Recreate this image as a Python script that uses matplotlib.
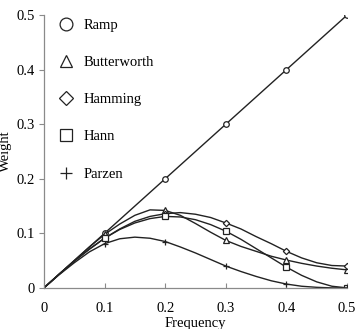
import numpy as np
import matplotlib
matplotlib.use("Agg")
import matplotlib.pyplot as plt

plt.rcParams['font.family'] = ['Liberation Serif', 'DejaVu Serif']

# frequency grid the curves were read on
freq = [0, 0.025, 0.05, 0.075, 0.1, 0.125, 0.15, 0.175, 0.2, 0.225, 0.25,
        0.275, 0.3, 0.325, 0.35, 0.375, 0.4, 0.425, 0.45, 0.475, 0.5]

ramp = [0, 0.025, 0.05, 0.075, 0.1, 0.125, 0.15, 0.175, 0.2, 0.225, 0.25,
        0.275, 0.3, 0.325, 0.35, 0.375, 0.4, 0.425, 0.45, 0.475, 0.5]
butterworth = [0, 0.025, 0.05, 0.075, 0.098, 0.117, 0.133, 0.143, 0.142, 0.133, 0.118,
               0.102, 0.087, 0.076, 0.067, 0.058, 0.051, 0.045, 0.040, 0.036, 0.033]
hamming = [0, 0.025, 0.049, 0.071, 0.091, 0.108, 0.122, 0.131, 0.136, 0.138, 0.135,
           0.129, 0.119, 0.108, 0.094, 0.081, 0.067, 0.055, 0.046, 0.041, 0.040]
hann = [0, 0.025, 0.049, 0.071, 0.091, 0.107, 0.119, 0.127, 0.131, 0.130, 0.125,
        0.116, 0.104, 0.089, 0.072, 0.055, 0.038, 0.023, 0.011, 0.003, 0]
parzen = [0, 0.024, 0.046, 0.066, 0.081, 0.090, 0.093, 0.091, 0.085, 0.075, 0.064,
          0.052, 0.040, 0.030, 0.021, 0.013, 0.007, 0.003, 0.001, 0, 0]

series = [
    ('Ramp', ramp, 'o'),
    ('Butterworth', butterworth, '^'),
    ('Hamming', hamming, 'D'),
    ('Hann', hann, 's'),
    ('Parzen', parzen, '+'),
]

fig = plt.figure(figsize=(3.6, 3.29), dpi=100)
ax = fig.add_axes([0.122, 0.125, 0.842, 0.829])

marks = list(range(4, len(freq), 4))
for name, vals, m in series:
    ms = 3.2 if m == 'D' else 4
    ax.plot(freq, vals, color='#222222', lw=1.0, marker=m, markevery=marks,
            markersize=ms, markerfacecolor='white', markeredgecolor='#222222',
            markeredgewidth=0.9, label=name)

ax.set_xlim(0, 0.5)
ax.set_ylim(0, 0.5)
ticks = [0, 0.1, 0.2, 0.3, 0.4, 0.5]
tick_labels = ['0', '0.1', '0.2', '0.3', '0.4', '0.5']
ax.set_xticks(ticks)
ax.set_xticklabels(tick_labels)
ax.set_yticks(ticks)
ax.set_yticklabels(tick_labels)
for s in ['top', 'right']:
    ax.spines[s].set_visible(False)
for s in ['left', 'bottom']:
    ax.spines[s].set_color('#8a8a8a')
    ax.spines[s].set_linewidth(0.9)
ax.tick_params(axis='x', direction='in', length=3.5, width=0.8, color='#8a8a8a',
               labelsize=10.5, pad=10)
ax.tick_params(axis='y', direction='out', length=3.5, width=0.8, color='#8a8a8a',
               labelsize=10.5, pad=3)
ax.set_xlabel('Frequency', fontsize=10.5, labelpad=1.5)
ax.set_ylabel('Weight', fontsize=10.5, labelpad=3)

handles, labels = ax.get_legend_handles_labels()
leg_handles = []
for h in handles:
    c = plt.Line2D([], [], linestyle='none', marker=h.get_marker(),
                   markersize=h.get_markersize() * 2.3, markerfacecolor='white',
                   markeredgecolor='#222222', markeredgewidth=0.9)
    leg_handles.append(c)
ax.legend(leg_handles, labels, loc='upper left', frameon=False, fontsize=10.5,
          labelspacing=1.65, handletextpad=0.2, borderaxespad=0.2,
          bbox_to_anchor=(-0.005, 1.02))

fig.savefig('out.png', dpi=100)
